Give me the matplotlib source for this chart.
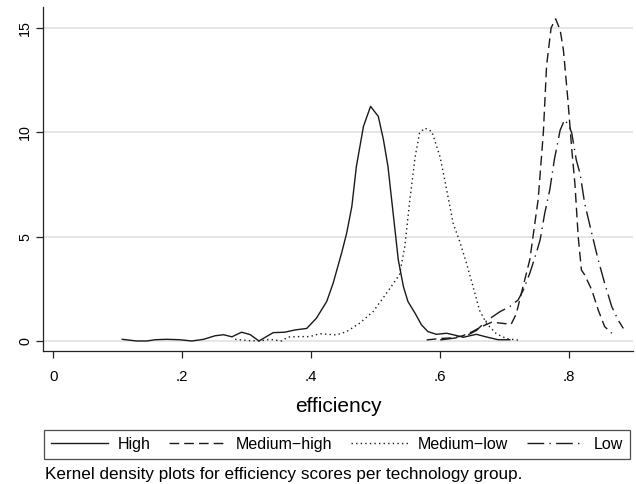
import matplotlib
matplotlib.use("Agg")
import matplotlib.pyplot as plt

plt.rcParams['font.family'] = ['Liberation Sans', 'DejaVu Sans']

# ---- data ----
high_x = [0.107, 0.129, 0.145, 0.158, 0.176, 0.196, 0.215, 0.233, 0.251, 0.264, 0.277, 0.292,
          0.305, 0.319, 0.341, 0.359, 0.375, 0.393, 0.408, 0.424, 0.434, 0.447, 0.455, 0.463,
          0.470, 0.481, 0.492, 0.504, 0.512, 0.519, 0.527, 0.535, 0.543, 0.550, 0.561, 0.571,
          0.581, 0.594, 0.610, 0.620, 0.636, 0.656, 0.672, 0.690, 0.708]
high_y = [0.08, 0.0, 0.0, 0.06, 0.08, 0.06, 0.0, 0.08, 0.25, 0.30, 0.20, 0.42,
          0.31, 0.0, 0.40, 0.42, 0.53, 0.60, 1.09, 1.89, 2.77, 4.2, 5.17, 6.45,
          8.36, 10.28, 11.24, 10.76, 9.64, 8.36, 6.13, 3.89, 2.6, 1.89, 1.33, 0.77,
          0.45, 0.32, 0.37, 0.30, 0.18, 0.32, 0.19, 0.06, 0.06]

medhigh_x = [0.579, 0.600, 0.620, 0.635, 0.650, 0.665, 0.680, 0.695, 0.710, 0.718, 0.726,
             0.739, 0.752, 0.760, 0.765, 0.772, 0.779, 0.786, 0.791, 0.798, 0.804, 0.809,
             0.814, 0.819, 0.824, 0.835, 0.845, 0.855, 0.866]
medhigh_y = [0.05, 0.12, 0.15, 0.25, 0.45, 0.7, 0.9, 0.85, 0.8, 1.3, 2.3,
             3.9, 6.8, 10.0, 13.2, 15.0, 15.43, 14.9, 13.96, 11.56, 9.2, 7.5,
             5.0, 3.4, 3.17, 2.45, 1.49, 0.69, 0.37]

medlow_x = [0.282, 0.302, 0.320, 0.336, 0.354, 0.364, 0.382, 0.398, 0.413, 0.439, 0.455,
            0.475, 0.496, 0.517, 0.537, 0.545, 0.553, 0.561, 0.568, 0.576, 0.587, 0.600,
            0.610, 0.620, 0.631, 0.641, 0.651, 0.661, 0.672, 0.687, 0.703, 0.724]
medlow_y = [0.08, 0.02, 0.0, 0.08, 0.0, 0.19, 0.21, 0.21, 0.35, 0.29, 0.45,
            0.85, 1.41, 2.3, 3.18, 4.5, 6.77, 8.8, 9.96, 10.2, 10.04, 8.8,
            7.25, 5.65, 4.7, 3.7, 2.6, 1.47, 0.83, 0.35, 0.11, 0.03]

low_x = [0.600, 0.625, 0.641, 0.656, 0.672, 0.693, 0.708, 0.721, 0.729, 0.739, 0.749,
         0.755, 0.762, 0.770, 0.777, 0.786, 0.793, 0.800, 0.804, 0.811, 0.817, 0.824,
         0.835, 0.845, 0.855, 0.866, 0.876, 0.884]
low_y = [0.05, 0.15, 0.26, 0.5, 0.97, 1.41, 1.65, 1.97, 2.45, 3.25, 4.21,
         4.85, 6.1, 7.25, 8.68, 10.1, 10.6, 10.3, 9.96, 8.68, 8.0, 6.6,
         5.16, 3.89, 2.77, 1.65, 1.0, 0.6]

labels = ["High", "Medium\u2212high", "Medium\u2212low", "Low"]
x_ticks = [0, 0.2, 0.4, 0.6, 0.8]
x_ticklabels = ["0", ".2", ".4", ".6", ".8"]
y_ticks = [0, 5, 10, 15]
y_ticklabels = ["0", "5", "10", "15"]
xlabel = "efficiency"
caption = "Kernel density plots for efficiency scores per technology group."

# ---- figure ----
W, H = 636, 484
fig = plt.figure(figsize=(W / 100, H / 100), dpi=100)
fig.patch.set_facecolor("white")
left_px, right_px, top_px, bottom_px = 43.3, 633, 7, 351
ax = fig.add_axes([left_px / W, 1 - bottom_px / H, (right_px - left_px) / W, (bottom_px - top_px) / H])

lc = "#1a1a1a"
lw = 1.0
styles = [
    dict(linestyle="-"),
    dict(dashes=(7, 3.6)),
    dict(dashes=(1, 2.3)),
    dict(dashes=(12, 3.8, 1, 3.8)),
]
series = [(high_x, high_y), (medhigh_x, medhigh_y), (medlow_x, medlow_y), (low_x, low_y)]
handles = []
for (xs, ys), st, lab in zip(series, styles, labels):
    h, = ax.plot(xs, ys, color=lc, lw=lw, label=lab, **st)
    handles.append(h)

ax.set_xlim(-0.0155, 0.899)
ax.set_ylim(-0.48, 16.0)
ax.set_xticks(x_ticks)
ax.set_xticklabels(x_ticklabels)
ax.set_yticks(y_ticks)
ax.set_yticklabels(y_ticklabels, rotation=90, va="center")
ax.tick_params(axis="x", length=5, width=0.9, pad=9, labelsize=10.8, colors="#222222", labelcolor="black")
ax.tick_params(axis="y", length=5, width=0.9, pad=3, labelsize=10.3, colors="#222222", labelcolor="black")
ax.grid(axis="y", color="#e4e4e4", lw=1.3)
ax.set_axisbelow(True)
for s in ["top", "right"]:
    ax.spines[s].set_visible(False)
for s in ["left", "bottom"]:
    ax.spines[s].set_color("#222222")
    ax.spines[s].set_linewidth(0.9)

fig.text((left_px + right_px) / 2 / W, 1 - 407 / H, xlabel, ha="center", va="center", fontsize=15)

leg = fig.legend(handles=handles, labels=labels, ncol=4, loc="center",
                 bbox_to_anchor=((42.7 + 631) / 2 / W, 1 - 444.5 / H),
                 fontsize=11.5, handlelength=3.6, handletextpad=0.6, columnspacing=1.15,
                 frameon=True, fancybox=False, borderpad=0.45, borderaxespad=0)
leg.get_frame().set_edgecolor("#222222")
leg.get_frame().set_linewidth(0.9)

fig.text(45 / W, 1 - 475 / H, caption, ha="left", va="center", fontsize=12.3)

fig.savefig("out.png", dpi=100, facecolor="white")
